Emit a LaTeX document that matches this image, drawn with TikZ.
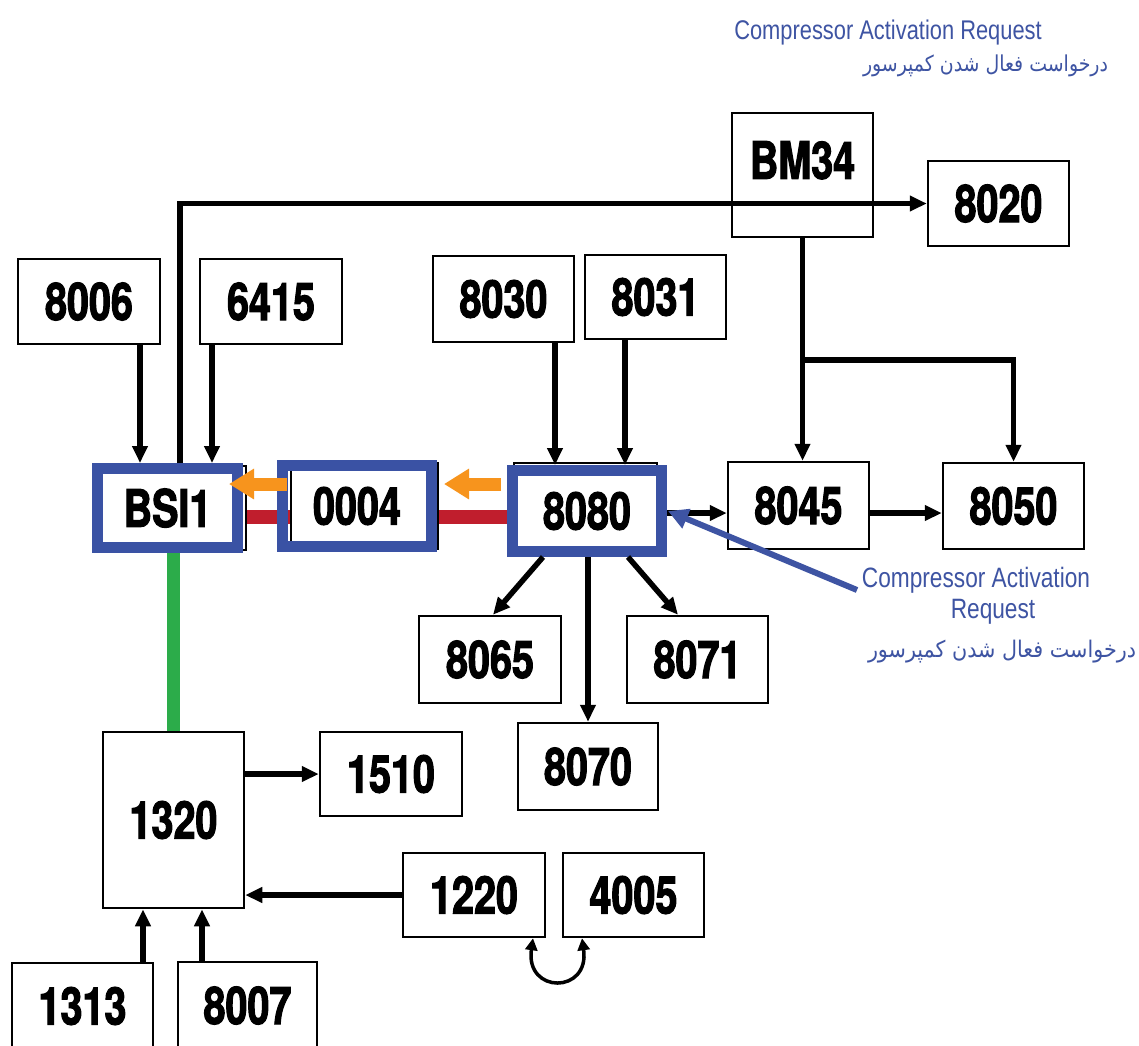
\documentclass[tikz,border=0pt]{standalone}
\usepackage{fontspec}
\usepackage{graphicx}
\setmainfont{Liberation Sans}
\newfontfamily\boxfont{TeX Gyre Heros}[FakeStretch=0.76,FakeBold=2]
\newfontfamily\notefont{Liberation Sans}[FakeStretch=0.81]
\newfontfamily\fafont{DejaVu Sans}[Script=Arabic]
\TeXXeTstate=1
\usetikzlibrary{arrows.meta,calc}
\pgfdeclarelayer{back}
\pgfdeclarelayer{bg}
\pgfsetlayers{back,bg,main}
\definecolor{noteblue}{RGB}{62,84,163}
\definecolor{frameblue}{RGB}{58,82,164}
\definecolor{orangeA}{RGB}{247,148,29}
\definecolor{redL}{RGB}{192,30,45}
\definecolor{greenL}{RGB}{44,172,74}
\newcommand\mkbox[6]{\node[box, minimum width={(#4)-(#2)}, minimum height={(#5)-(#3)}] (#1) at ({((#2)+(#4))/2},{((#3)+(#5))/2}) {#6};}
\newcommand\fatext{\fafont\beginR درخواست فعال شدن کمپرسور\endR}
\begin{document}
\begin{tikzpicture}[x=1pt,y=-1pt,
  lbl/.style={font=\boxfont\bfseries\fontsize{52}{60}\selectfont},
  box/.style={lbl, draw=black, line width=2.5pt, fill=white, inner sep=0pt},
  blueframe/.style={lbl, draw=frameblue, line width=11pt, inner sep=0pt},
  plainrect/.style={draw=black, line width=2.5pt, fill=white},
  conn/.style={draw=black, line width=5.5pt, -{Triangle[length=17pt,width=15pt]}},
  dbl/.style={draw=black, line width=3.5pt, {Triangle[length=12pt,width=12pt]}-{Triangle[length=12pt,width=12pt]}},
  oarr/.style={draw=orangeA, line width=13pt, -{Triangle[length=25pt,width=29pt]}},
  barr/.style={draw=noteblue, line width=6pt, -{Triangle[length=20pt,width=20pt]}},
  redbus/.style={draw=redL, line width=14pt},
  greenbus/.style={draw=greenL, line width=13pt},
  note/.style={text=noteblue, inner sep=0pt, font=\notefont\fontsize{28}{32}\selectfont},
  fanote/.style={text=noteblue, inner sep=0pt}
]
\clip (0,0) rectangle (1139,1045);
\begin{pgfonlayer}{back}
\fill[white] (0,0) rectangle (1139,1045);
\end{pgfonlayer}

% plain boxes
\node[box, minimum width=141, minimum height=124, text depth=30pt] (BM34) at (802.5,175) {BM34};
\mkbox{n8020}{928}{161}{1069}{246}{8020}
\mkbox{n8006}{18}{259}{160}{344}{8006}
\mkbox{n6415}{200}{259}{342}{344}{6415}
\mkbox{n8030}{433}{256}{574}{342}{8030}
\mkbox{n8031}{585}{255}{726}{339}{8031}
\mkbox{n8045}{728}{462}{869}{549}{8045}
\mkbox{n8050}{943}{463}{1084}{549}{8050}
\mkbox{n8065}{419}{616}{561}{703}{8065}
\mkbox{n8071}{627}{616}{768}{703}{8071}
\mkbox{n8070}{518}{723}{658}{810}{8070}
\mkbox{n1320}{103}{732}{244}{908}{1320}
\mkbox{n1510}{320}{732}{462}{816}{1510}
\mkbox{n1220}{403}{853}{545}{937}{1220}
\mkbox{n4005}{563}{853}{704}{937}{4005}
\mkbox{n1313}{12}{963}{153}{1049}{1313}
\mkbox{n8007}{178}{962}{317}{1049}{8007}

% original boxes under the blue frames
\draw[plainrect] (100,466) rectangle (246,550);
\draw[plainrect] (291,463) rectangle (438,549);
\draw[plainrect] (514,463) rectangle (657,556);

% blue framed nodes
\node[blueframe, minimum width=140, minimum height=79] (BSI1) at (167.5,508) {BSI1};
\node[blueframe, minimum width=149, minimum height=81] (n0004) at (357,506) {0004};
\node[blueframe, minimum width=149, minimum height=81] (n8080) at (587,511) {8080};

% background buses
\begin{pgfonlayer}{bg}
\coordinate (r1) at ([yshift=-9pt]BSI1.center);
\draw[redbus] (r1) -- (r1 -| n8080.center);
\draw[greenbus] (n1320.north |- BSI1.south) -- (n1320.north);
\end{pgfonlayer}

% connectors
\coordinate (b1) at ([xshift=12.5pt]BSI1.north);
\draw[conn] (b1) |- (n8020.west);
\coordinate (a1) at ([xshift=51pt]n8006.south);
\draw[conn] (a1) -- (a1 |- BSI1.north);
\coordinate (a2) at ([xshift=-59pt]n6415.south);
\draw[conn] (a2) -- (a2 |- BSI1.north);
\coordinate (a3) at ([xshift=51.5pt]n8030.south);
\draw[conn] (a3) -- (a3 |- n8080.north);
\coordinate (a4) at ([xshift=-30.5pt]n8031.south);
\draw[conn] (a4) -- (a4 |- n8080.north);

\coordinate (br) at (802.5,360);
\draw[conn] (BM34.south) -- (BM34.south |- n8045.north);
\draw[conn] (br) -| (n8050.north);

\coordinate (p1) at ([yshift=-2pt]n8080.east);
\draw[conn] (p1) -- (p1 -| n8045.west);
\coordinate (p2) at ([yshift=-7.5pt]n8045.east);
\draw[conn] (p2) -- (p2 -| n8050.west);

\draw[conn] ([xshift=-44pt]n8080.south) -- ([xshift=3pt]n8065.north);
\draw[conn] ([xshift=41pt]n8080.south) -- ([xshift=-19.5pt]n8071.north);
\draw[conn] (n8070.north |- n8080.south) -- (n8070.north);

\draw[conn] (n1510.west -| n1320.east) -- (n1510.west);
\draw[conn] (n1220.west) -- (n1220.west -| n1320.east);
\draw[conn] ([xshift=60.5pt]n1313.north) -- ([xshift=60.5pt]n1313.north |- n1320.south);
\draw[conn] ([xshift=-45.5pt]n8007.north) -- ([xshift=-45.5pt]n8007.north |- n1320.south);

\draw[dbl] ([xshift=59pt]n1220.south) .. controls ([xshift=51pt,yshift=-56pt]n1220.south) and ([xshift=-43.5pt,yshift=-56pt]n4005.south) .. ([xshift=-51.5pt]n4005.south);

% orange arrows
\draw[oarr] ([xshift=10pt,yshift=22pt]n0004.west) -- ([xshift=-14pt,yshift=24pt]BSI1.east);
\draw[oarr] ([xshift=-6pt,yshift=27pt]n8080.west) -- ([xshift=7pt,yshift=22pt]n0004.east);

% annotations
\node[note, anchor=base, font=\notefont\fontsize{27}{30}\selectfont] (t1) at (888,39) {Compressor Activation Request};
\node[fanote] (t2) at (985.5,66) {\resizebox*{245pt}{22pt}{\fatext}};
\node[note, anchor=base] (t3) at (976,587) {Compressor Activation};
\node[note, anchor=base] (t4) at (993,618) {Request};
\node[fanote] (t5) at (1002,652) {\resizebox*{268pt}{23pt}{\fatext}};
\coordinate (ann) at (857,590);
\draw[barr] (ann) -- ([xshift=1pt]n8080.east);
\end{tikzpicture}
\end{document}
